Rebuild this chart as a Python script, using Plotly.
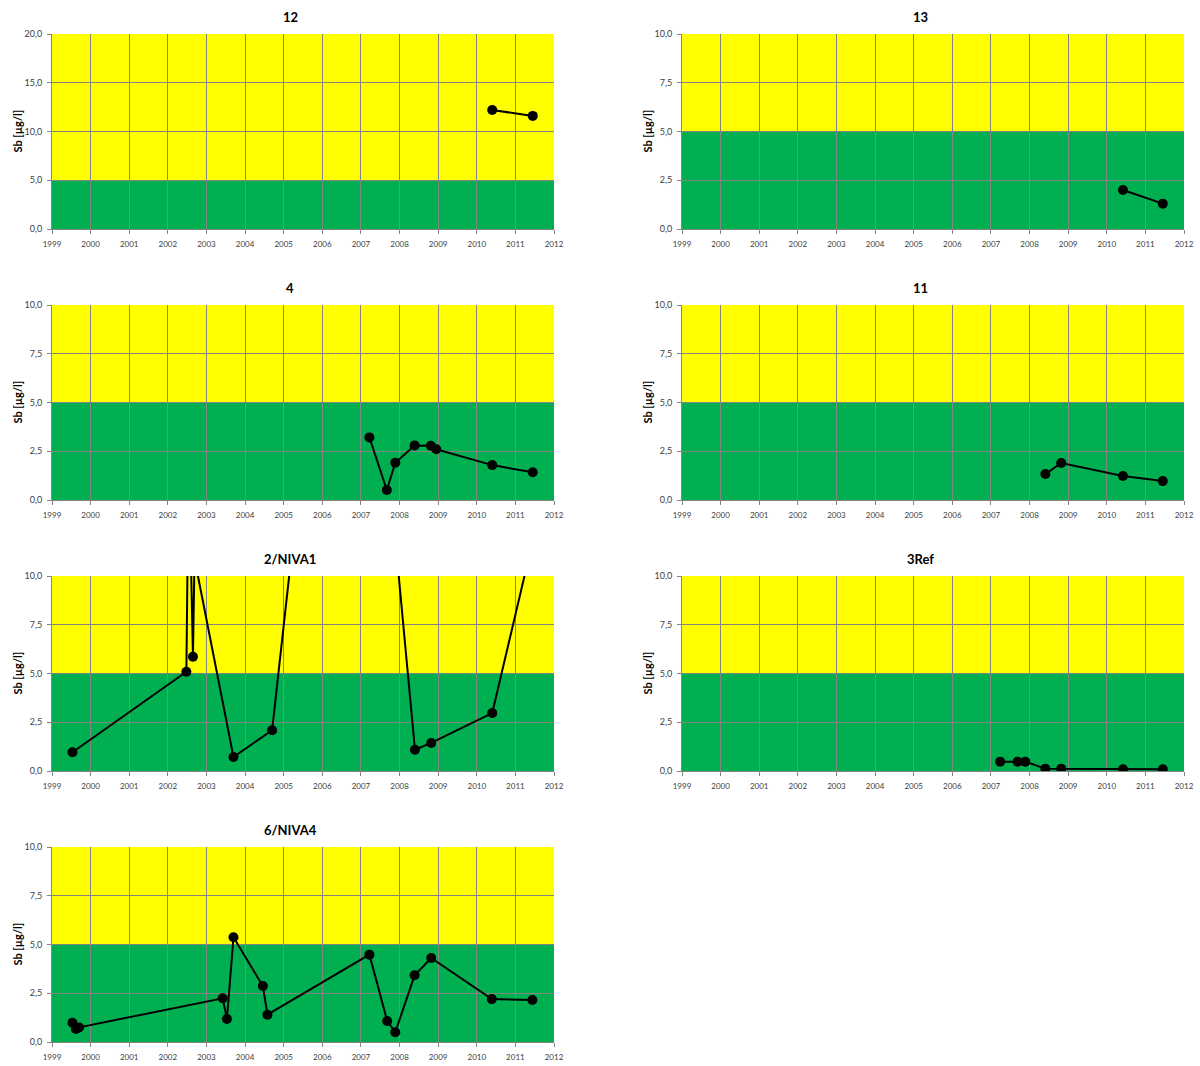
import plotly.graph_objects as go

# Sb concentrations per station (decimal year, µg/l)
st12_years = [2010.40, 2011.45]
st12_sb = [12.2, 11.6]

st13_years = [2010.42, 2011.45]
st13_sb = [2.0, 1.30]

st4_years = [2007.22, 2007.67, 2007.89, 2008.39, 2008.81, 2008.95, 2010.40, 2011.45]
st4_sb = [3.21, 0.51, 1.91, 2.80, 2.78, 2.60, 1.79, 1.42]

st11_years = [2008.41, 2008.82, 2010.42, 2011.45]
st11_sb = [1.33, 1.90, 1.23, 0.97]

niva1_years = [1999.53, 2002.48, 2002.54, 2002.65, 2002.69, 2003.70, 2004.70,
               2006.68, 2008.40, 2008.82, 2010.40, 2011.45]
niva1_sb = [0.96, 5.09, 16.3, 5.86, 10.9, 0.72, 2.09, 37.5, 1.09, 1.44, 2.97, 11.8]

st3ref_years = [2007.24, 2007.69, 2007.89, 2008.41, 2008.82, 2010.42, 2011.45]
st3ref_sb = [0.48, 0.48, 0.48, 0.12, 0.12, 0.09, 0.09]

niva4_years = [1999.53, 1999.62, 1999.70, 2003.42, 2003.53, 2003.70, 2004.46, 2004.58,
               2007.22, 2007.68, 2007.89, 2008.39, 2008.82, 2010.39, 2011.44]
niva4_sb = [0.99, 0.67, 0.75, 2.24, 1.18, 5.37, 2.87, 1.40,
            4.48, 1.08, 0.50, 3.42, 4.31, 2.20, 2.15]

station_titles = ["12", "13", "4", "11", "2/NIVA1", "3Ref", "6/NIVA4"]
station_data = [(st12_years, st12_sb), (st13_years, st13_sb), (st4_years, st4_sb),
                (st11_years, st11_sb), (niva1_years, niva1_sb), (st3ref_years, st3ref_sb),
                (niva4_years, niva4_sb)]
y_max = [20, 10, 10, 10, 10, 10, 10]
y_step = [5, 2.5, 2.5, 2.5, 2.5, 2.5, 2.5]
class_limit = 5.0
year_ticks = list(range(1999, 2013))

W, H = 1200, 1066
col_px = [(52, 554), (682, 1184)]
row_top_px = [34, 305, 576, 847]
plot_h = 195

GRID = "#848484"
YELLOW = "#FFFF00"
GREEN = "#00B050"
FONT = "Lato, 'Liberation Sans', sans-serif"

fig = go.Figure()
layout = dict(
    width=W, height=H, autosize=False,
    margin=dict(l=0, r=0, t=0, b=0, autoexpand=False),
    paper_bgcolor="white", plot_bgcolor="white",
    separators=",.",
    showlegend=False,
    font=dict(family=FONT, color="#404040"),
    shapes=[], annotations=[],
)

for i, (title, (xs, ys)) in enumerate(zip(station_titles, station_data)):
    row, col = divmod(i, 2)
    n = "" if i == 0 else str(i + 1)
    x0, x1 = col_px[col]
    top = row_top_px[row]
    xd = [x0 / W, x1 / W]
    yd = [1 - (top + plot_h) / H, 1 - top / H]

    layout["xaxis" + n] = dict(
        domain=xd, anchor="y" + n, range=[1999, 2012], automargin=False,
        tickvals=year_ticks, ticktext=[str(y) for y in year_ticks],
        showgrid=True, gridcolor=GRID, gridwidth=1,
        showline=True, linecolor=GRID, linewidth=1,
        ticks="outside", ticklen=4, tickcolor=GRID, ticklabelstandoff=3,
        tickfont=dict(size=8, color="#404040", family=FONT),
        zeroline=False, fixedrange=True,
    )
    layout["yaxis" + n] = dict(
        domain=yd, anchor="x" + n, range=[0, y_max[i]], automargin=False,
        tick0=0, dtick=y_step[i], tickformat=".1f",
        showgrid=True, gridcolor=GRID, gridwidth=1,
        showline=True, linecolor=GRID, linewidth=1,
        ticks="outside", ticklen=4, tickcolor=GRID, ticklabelstandoff=3,
        tickfont=dict(size=9, color="#404040", family=FONT),
        zeroline=False, fixedrange=True,
    )

    xref = "x" + n
    yref = "y" + n
    # class bands: good (green) below the limit, moderate (yellow) above
    layout["shapes"].append(dict(type="rect", xref=xref + " domain", yref=yref,
                                 x0=0, x1=1, y0=0, y1=class_limit,
                                 fillcolor=GREEN, line=dict(width=0), layer="below"))
    layout["shapes"].append(dict(type="rect", xref=xref + " domain", yref=yref,
                                 x0=0, x1=1, y0=class_limit, y1=y_max[i],
                                 fillcolor=YELLOW, line=dict(width=0), layer="below"))

    layout["annotations"].append(dict(
        text="<b>" + title + "</b>", xref="paper", yref="paper",
        x=((x0 + x1) / 2 - 13) / W, y=1 - (top - 17) / H, xanchor="center", yanchor="middle",
        showarrow=False, font=dict(size=13, color="black", family=FONT)))

    layout["annotations"].append(dict(
        text="<b>Sb [µg/l]</b>", xref="paper", yref="paper",
        x=(x0 - 35) / W, y=1 - (top + plot_h / 2) / H, xanchor="center", yanchor="middle",
        textangle=-90, showarrow=False, font=dict(size=11, color="black", family=FONT)))

    fig.add_trace(go.Scatter(
        x=xs, y=ys, xaxis=xref, yaxis=yref, mode="lines+markers",
        line=dict(color="black", width=2),
        marker=dict(color="black", size=10, line=dict(width=0)),
        hoverinfo="x+y",
    ))

fig.update_layout(**layout)
fig.write_html("out.html")
